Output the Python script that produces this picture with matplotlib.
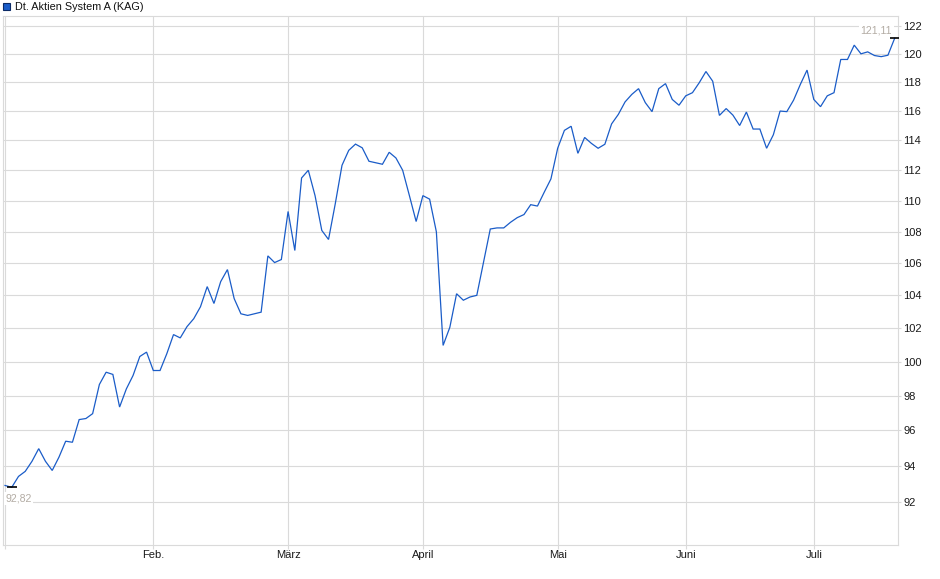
import matplotlib
matplotlib.use("Agg")
import matplotlib.pyplot as plt
from matplotlib.patches import Rectangle
from matplotlib.ticker import FixedLocator, FixedFormatter, NullLocator

plt.rcParams['font.family'] = ['Liberation Sans', 'DejaVu Sans']

# ---- data ----
series_name = "Dt. Aktien System A (KAG)"
values = [
    92.92, 92.82, 93.42, 93.70, 94.26, 94.97, 94.26, 93.75, 94.49, 95.39,
    95.33, 96.62, 96.68, 96.96, 98.65, 99.37, 99.24, 97.34, 98.39, 99.18,
    100.30, 100.56, 99.47, 99.47, 100.46, 101.61, 101.41, 102.09, 102.57, 103.30,
    104.54, 103.50, 104.85, 105.60, 103.80, 102.87, 102.77, 102.87, 102.97, 106.46,
    106.04, 106.23, 109.30, 106.80, 111.49, 112.00, 110.33, 108.08, 107.50, 109.80,
    112.33, 113.33, 113.75, 113.50, 112.60, 112.50, 112.40, 113.20, 112.82, 112.00,
    110.33, 108.65, 110.33, 110.10, 107.99, 100.96, 102.05, 104.10, 103.70, 103.90,
    104.00, 106.08, 108.17, 108.24, 108.24, 108.60, 108.90, 109.10, 109.74, 109.65,
    110.55, 111.43, 113.47, 114.68, 114.96, 113.13, 114.20, 113.80, 113.47, 113.74,
    115.12, 115.77, 116.63, 117.15, 117.55, 116.58, 115.96, 117.55, 117.90, 116.80,
    116.40, 117.05, 117.27, 117.96, 118.75, 118.07, 115.70, 116.17, 115.72, 115.01,
    115.93, 114.77, 114.77, 113.47, 114.38, 116.00, 115.96, 116.75, 117.84, 118.85,
    116.80, 116.30, 117.05, 117.27, 119.60, 119.60, 120.62, 120.00, 120.14, 119.88,
    119.80, 119.90, 121.11,
]
month_index = [0, 22, 42, 62, 82, 101, 120]
month_labels = ["", "Feb.", "März", "April", "Mai", "Juni", "Juli"]
y_ticks = [92, 94, 96, 98, 100, 102, 104, 106, 108, 110, 112, 114, 116, 118, 120, 122]
min_label = "92,82"
max_label = "121,11"

# ---- figure ----
W, H = 940, 579
fig = plt.figure(figsize=(W / 100, H / 100), dpi=100)
fig.patch.set_facecolor("white")

left_px, right_px, top_px, bottom_px = 3, 898.3, 16, 545
ax = fig.add_axes([left_px / W, (H - bottom_px) / H,
                   (right_px - left_px) / W, (bottom_px - top_px) / H])

grid_c = "#dadada"
line_c = "#1a5cc8"

x = list(range(len(values)))
ax.plot(x, values, color=line_c, lw=0.9, zorder=3, solid_joinstyle="miter")

ax.set_yscale("log")
ax.set_ylim(89.70, 122.72)
ax.set_xlim(-0.30, 132.54)

ax.yaxis.set_major_locator(FixedLocator(y_ticks))
ax.yaxis.set_major_formatter(FixedFormatter([str(v) for v in y_ticks]))
ax.yaxis.set_minor_locator(NullLocator())
ax.yaxis.tick_right()
ax.set_xticks(month_index)
ax.set_xticklabels(month_labels)
ax.xaxis.set_minor_locator(NullLocator())

ax.grid(True, color=grid_c, lw=0.8, zorder=0)
ax.set_axisbelow(True)
for s in ax.spines.values():
    s.set_color(grid_c)
    s.set_linewidth(0.8)

ax.tick_params(axis="y", which="both", length=2, width=0.8, color=grid_c,
               labelsize=8, labelcolor="#1a1a1a", pad=1.5)
ax.tick_params(axis="x", which="both", length=3, width=0.8, color=grid_c,
               labelsize=8, labelcolor="#1a1a1a", pad=0.5)

# min / max markers
imin = values.index(min(values))
imax = len(values) - 1
for i in (imin, imax):
    ax.plot([i], [values[i]], marker="_", ms=6.5, mew=1.2, color="black", zorder=4)

lab_c = "#b3aca4"
ax.annotate(min_label, (imin, values[imin]), xytext=(-4.5, -8.0),
            textcoords="offset points", ha="left", va="center",
            fontsize=7.6, color=lab_c, zorder=5,
            bbox=dict(boxstyle="square,pad=0.15", fc="white", ec="none"))
ax.annotate(max_label, (imax, values[imax]), xytext=(-1.9, 5.8),
            textcoords="offset points", ha="right", va="center",
            fontsize=7.6, color=lab_c, zorder=5,
            bbox=dict(boxstyle="square,pad=0.15", fc="white", ec="none"))

# legend
fig.patches.append(Rectangle((3.3 / W, 1 - 9.5 / H), 6.7 / W, 6.7 / H,
                             transform=fig.transFigure, facecolor=line_c,
                             edgecolor="#0b2a66", lw=0.8))
fig.text(15 / W, 1 - 6.5 / H, series_name, fontsize=7.8, color="#111111",
         ha="left", va="center")

fig.savefig("out.png", dpi=100, facecolor="white")
